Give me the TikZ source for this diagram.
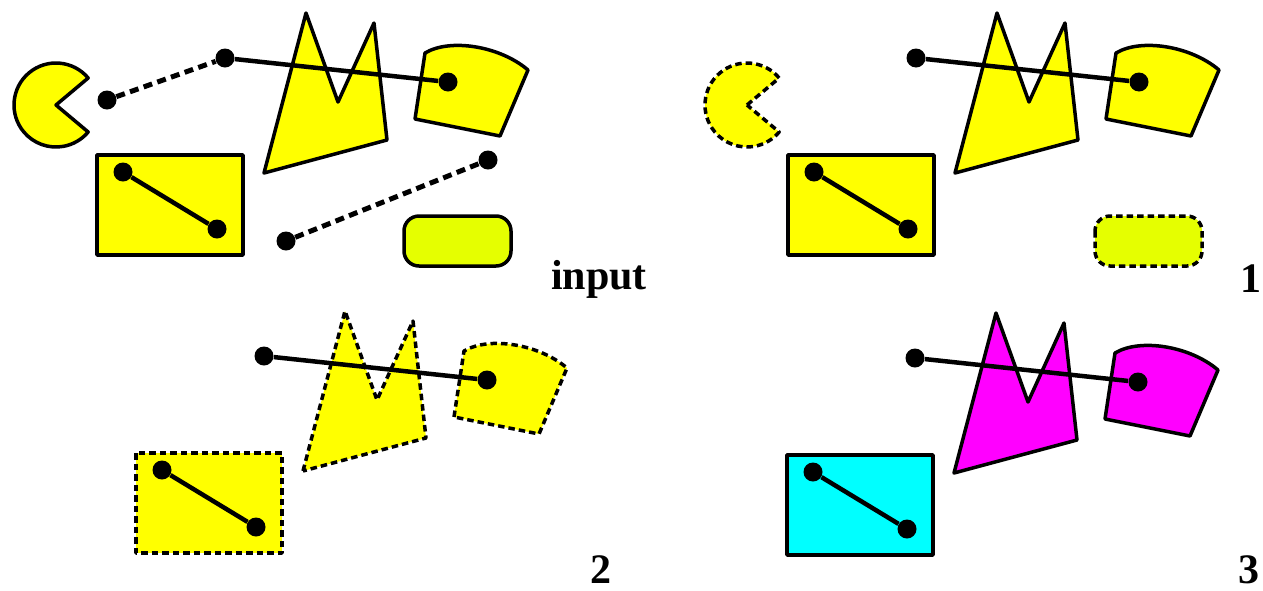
\documentclass[tikz,border=0pt]{standalone}
\usepackage{fontspec}
\setmainfont{Liberation Serif}
\definecolor{pillfill}{RGB}{229,255,0}
\definecolor{shapeyellow}{RGB}{255,255,0}
\definecolor{shapemagenta}{RGB}{255,0,255}
\definecolor{shapecyan}{RGB}{0,255,255}

\begin{document}
\begin{tikzpicture}[x=0.5pt,y=-0.5pt,
	blob/.style={draw=black,line width=1.75pt,line join=round,fill=shapeyellow},
	dashedge/.style={dash pattern=on 3.25pt off 2pt},
	dot/.style={circle,fill=black,inner sep=0pt,minimum size=9.5pt},
	link/.style={line width=2.25pt},
	dashlink/.style={line width=2.5pt,dash pattern=on 4.5pt off 2.75pt},
	lbl/.style={anchor=base east,font=\fontsize{21}{25}\selectfont\bfseries}]
	\useasboundingbox (0,0) rectangle (1263,590);
	
	% input
	\begin{scope}
		\draw[blob] (56,105) -- ++(-40:42) arc[start angle=-40,end angle=-320,radius=42] -- cycle;
		\draw[blob] (264,173) -- (306,13) -- (338,102) -- (374,23) -- (387,140) -- cycle;
		\draw[blob] (415,119) -- (425,53) .. controls (450,38) and (500,46) .. (528,70) -- (500,136) -- cycle;
		\draw[blob] (97,155) rectangle (243,255);
		\draw[blob,fill=pillfill,rounded corners=7.5pt] (404,216) rectangle (511,266);
		\node[dot] (a-in) at (107,100) {};
		\node[dot] (b-in) at (225,58) {};
		\node[dot] (c-in) at (448,82) {};
		\node[dot] (d-in) at (123,172) {};
		\node[dot] (e-in) at (217,229) {};
		\node[dot] (f-in) at (286,241) {};
		\node[dot] (g-in) at (488,160) {};
		\draw[dashlink] (a-in) -- (b-in);
		\draw[link] (b-in) -- (c-in);
		\draw[link] (d-in) -- (e-in);
		\draw[dashlink] (f-in) -- (g-in);
		\node[lbl] (lbl-in) at (654,289) {input};
	\end{scope}
	
	% 1
	\begin{scope}[shift={(691,0)}]
		\draw[blob,dashedge] (56,105) -- ++(-40:42) arc[start angle=-40,end angle=-320,radius=42] -- cycle;
		\draw[blob] (264,173) -- (306,13) -- (338,102) -- (374,23) -- (387,140) -- cycle;
		\draw[blob] (415,119) -- (425,53) .. controls (450,38) and (500,46) .. (528,70) -- (500,136) -- cycle;
		\draw[blob] (97,155) rectangle (243,255);
		\draw[blob,dashedge,fill=pillfill,rounded corners=7.5pt] (404,216) rectangle (511,266);
		\node[dot] (b-one) at (225,58) {};
		\node[dot] (c-one) at (448,82) {};
		\node[dot] (d-one) at (123,172) {};
		\node[dot] (e-one) at (217,229) {};
		\draw[link] (b-one) -- (c-one);
		\draw[link] (d-one) -- (e-one);
		\node[lbl] (lbl-one) at (578,292) {1};
	\end{scope}
	
	% 2
	\begin{scope}[shift={(39,298)}]
		\draw[blob,dashedge] (264,173) -- (306,13) -- (338,102) -- (374,23) -- (387,140) -- cycle;
		\draw[blob,dashedge] (415,119) -- (425,53) .. controls (450,38) and (500,46) .. (528,70) -- (500,136) -- cycle;
		\draw[blob,dashedge] (97,155) rectangle (243,255);
		\node[dot] (b-two) at (225,58) {};
		\node[dot] (c-two) at (448,82) {};
		\node[dot] (d-two) at (123,172) {};
		\node[dot] (e-two) at (217,229) {};
		\draw[link] (b-two) -- (c-two);
		\draw[link] (d-two) -- (e-two);
		\node[lbl] (lbl-two) at (580,285) {2};
	\end{scope}
	
	% 3
	\begin{scope}[shift={(690,300)}]
		\draw[blob,fill=shapemagenta] (264,173) -- (306,13) -- (338,102) -- (374,23) -- (387,140) -- cycle;
		\draw[blob,fill=shapemagenta] (415,119) -- (425,53) .. controls (450,38) and (500,46) .. (528,70) -- (500,136) -- cycle;
		\draw[blob,fill=shapecyan] (97,155) rectangle (243,255);
		\node[dot] (b-three) at (225,58) {};
		\node[dot] (c-three) at (448,82) {};
		\node[dot] (d-three) at (123,172) {};
		\node[dot] (e-three) at (217,229) {};
		\draw[link] (b-three) -- (c-three);
		\draw[link] (d-three) -- (e-three);
		\node[lbl] (lbl-three) at (577,283) {3};
	\end{scope}
\end{tikzpicture}
\end{document}
